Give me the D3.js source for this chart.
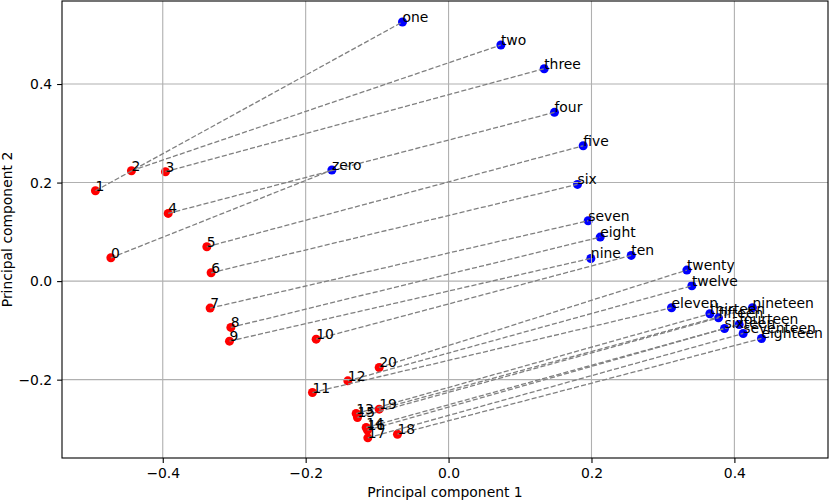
<!DOCTYPE html>
<html>
<head>
<meta charset="utf-8">
<script src="https://cdn.jsdelivr.net/npm/d3@7"></script>
<style>
  body { margin: 0; background: #fff; }
  text { font-family: "DejaVu Sans", sans-serif; }
</style>
</head>
<body>
<div id="chart"></div>
<script>
// digits (red) and number words (blue)
var digitLabels = ["0","1","2","3","4","5","6","7","8","9","10","11","12","13","14","15","16","17","18","19","20"];
var digitX = [-0.4726,-0.4942,-0.4438,-0.3962,-0.3924,-0.3383,-0.3323,-0.3337,-0.3047,-0.3066,-0.1853,
              -0.1905,-0.1410,-0.1293,-0.1153,-0.1275,-0.1135,-0.1130,-0.0715,-0.0971,-0.0971];
var digitY = [0.0473,0.1834,0.2240,0.2220,0.1374,0.0697,0.0169,-0.0548,-0.0940,-0.1218,-0.1178,
              -0.2261,-0.2024,-0.2687,-0.2971,-0.2768,-0.3025,-0.3181,-0.3107,-0.2599,-0.1753];

var wordLabels = ["zero","one","two","three","four","five","six","seven","eight","nine","ten",
                  "eleven","twelve","thirteen","fourteen","fifteen","sixteen","seventeen","eighteen","nineteen","twenty"];
var wordX = [-0.1633,-0.0645,0.0732,0.1338,0.1482,0.1884,0.1804,0.1954,0.2122,0.1991,0.2556,
             0.3120,0.3405,0.3657,0.4067,0.3778,0.3862,0.4123,0.4379,0.4253,0.3335];
var wordY = [0.2254,0.5259,0.4792,0.4311,0.3425,0.2747,0.1963,0.1225,0.0893,0.0460,0.0521,
             -0.0541,-0.0095,-0.0663,-0.0880,-0.0745,-0.0961,-0.1063,-0.1164,-0.0541,0.0223];

var xTicks = [-0.4, -0.2, 0.0, 0.2, 0.4];
var yTicks = [-0.2, 0.0, 0.2, 0.4];

var W = 830, H = 501;
var margin = {top: 1, right: 2, bottom: 43, left: 62};
var width = W - margin.left - margin.right;
var height = H - margin.top - margin.bottom;
var fs = 13.9;

var x = d3.scaleLinear().domain([-0.541, 0.531]).range([0, width]);
var y = d3.scaleLinear().domain([-0.359, 0.5685]).range([height, 0]);

var svg = d3.select("#chart").append("svg").attr("width", W).attr("height", H);
var g = svg.append("g").attr("transform", "translate(" + margin.left + "," + margin.top + ")");

var digits = digitLabels.map(function(l, i) { return {label: l, x: digitX[i], y: digitY[i]}; });
var words = wordLabels.map(function(l, i) { return {label: l, x: wordX[i], y: wordY[i]}; });

// points
g.selectAll("circle.digit").data(digits).enter().append("circle")
  .attr("class", "digit").attr("cx", function(d) { return x(d.x); }).attr("cy", function(d) { return y(d.y); })
  .attr("r", 4.5).attr("fill", "#ff0000");
g.selectAll("circle.word").data(words).enter().append("circle")
  .attr("class", "word").attr("cx", function(d) { return x(d.x); }).attr("cy", function(d) { return y(d.y); })
  .attr("r", 4.5).attr("fill", "#0000ff");

// grid
g.append("g").selectAll("line").data(xTicks).enter().append("line")
  .attr("x1", function(d) { return x(d); }).attr("x2", function(d) { return x(d); })
  .attr("y1", 0).attr("y2", height).attr("stroke", "#b0b0b0").attr("stroke-width", 1.1);
g.append("g").selectAll("line").data(yTicks).enter().append("line")
  .attr("y1", function(d) { return y(d); }).attr("y2", function(d) { return y(d); })
  .attr("x1", 0).attr("x2", width).attr("stroke", "#b0b0b0").attr("stroke-width", 1.1);

// connecting dashed lines
g.selectAll("line.link").data(digits).enter().append("line")
  .attr("class", "link")
  .attr("x1", function(d) { return x(d.x); }).attr("y1", function(d) { return y(d.y); })
  .attr("x2", function(d, i) { return x(words[i].x); }).attr("y2", function(d, i) { return y(words[i].y); })
  .attr("stroke", "#808080").attr("stroke-width", 1.3).attr("stroke-dasharray", "5.1,2.2");

// annotations
g.selectAll("text.dl").data(digits.concat(words)).enter().append("text")
  .attr("x", function(d) { return x(d.x); }).attr("y", function(d) { return y(d.y); })
  .attr("font-size", fs).attr("fill", "#000").text(function(d) { return d.label; });

// axes
var fmt = function(d) { return d3.format(".1f")(d).replace("-", "\u2212"); };
var xAxis = g.append("g").attr("transform", "translate(0," + height + ")")
  .call(d3.axisBottom(x).tickValues(xTicks).tickFormat(fmt).tickSize(4.9).tickPadding(4.9));
var yAxis = g.append("g")
  .call(d3.axisLeft(y).tickValues(yTicks).tickFormat(fmt).tickSize(4.9).tickPadding(4.9));
[xAxis, yAxis].forEach(function(a) {
  a.select(".domain").remove();
  a.selectAll("line").attr("stroke", "#000").attr("stroke-width", 1.1);
  a.selectAll("text").attr("font-size", fs).attr("font-family", "DejaVu Sans").attr("fill", "#000");
});

// spines
g.append("rect").attr("width", width).attr("height", height)
  .attr("fill", "none").attr("stroke", "#000").attr("stroke-width", 1.1);

svg.append("text").attr("x", margin.left + width / 2).attr("y", H - 4)
  .attr("text-anchor", "middle").attr("font-size", fs).text("Principal component 1");
svg.append("text").attr("transform", "translate(12," + (margin.top + height / 2) + ") rotate(-90)")
  .attr("text-anchor", "middle").attr("font-size", fs).text("Principal component 2");
</script>
</body>
</html>
